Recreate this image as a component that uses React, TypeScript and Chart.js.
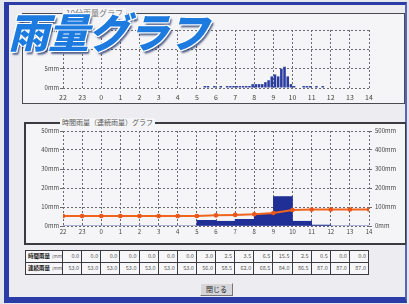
import React, { useEffect, useRef } from 'react';
import { Chart, registerables } from 'chart.js';

Chart.register(...registerables);

const hourLabels = ['22', '23', '0', '1', '2', '3', '4', '5', '6', '7', '8', '9', '10', '11', '12', '13', '14'];

// 10-minute rainfall (mm), six slots per hour from 22:00 to 13:50
const tenMinRain = [
  0, 0, 0, 0, 0, 0, // 22
  0, 0, 0, 0, 0, 0, // 23
  0, 0, 0, 0, 0, 0, // 0
  0, 0, 0, 0, 0, 0, // 1
  0, 0, 0, 0, 0, 0, // 2
  0, 0, 0, 0, 0, 0, // 3
  0, 0, 0, 0, 0, 0, // 4
  0, 0, 0.5, 0.5, 0, 0.5, // 5
  0, 0.5, 0, 0.5, 0.5, 0.5, // 6
  0.5, 0.5, 0.5, 0.5, 0.5, 1.0, // 7
  1.0, 1.0, 1.0, 1.5, 2.0, 3.0, // 8
  3.5, 3.0, 5.0, 5.5, 3.0, 1.0, // 9
  0.5, 0, 0, 0.5, 0.5, 0.5, // 10
  0, 0.5, 0, 0.5, 0, 0, // 11
  0, 0, 0, 0, 0, 0, // 12
  0, 0, 0, 0, 0, 0, // 13
];

// hourly rainfall (mm) per interval 22-23 ... 13-14
const hourlyRain = [0, 0, 0, 0, 0, 0, 0, 3.0, 2.5, 3.5, 6.5, 15.5, 2.5, 0.5, 0, 0];

// continuous rainfall (mm) at each hour mark 22 ... 14
const cumulativeRain = [53.0, 53.0, 53.0, 53.0, 53.0, 53.0, 53.0, 53.0, 56.0, 58.5, 62.0, 68.5, 84.0, 86.5, 87.0, 87.0, 87.0];

const topYTicks = [0, 5, 10, 15];
const leftYTicks = [0, 10, 20, 30, 40, 50];
const rightYTicks = [0, 100, 200, 300, 400, 500];

const FONT = '"Noto Sans CJK JP", "Noto Sans", sans-serif';
const GRID = '#6a6a70';

function hourTick(v: any) {
  const i = Number(v);
  return Number.isInteger(i) ? hourLabels[i] ?? '' : '';
}

function TopChart() {
  const ref = useRef<HTMLCanvasElement>(null);
  useEffect(() => {
    if (!ref.current) return;
    const data = tenMinRain.map((v, i) => ({ x: i / 6 + 1 / 12, y: v }));
    const chart = new Chart(ref.current, {
      type: 'bar',
      data: {
        datasets: [
          {
            data,
            backgroundColor: '#2a3c9e',
            borderColor: '#2a3c9e',
            borderWidth: 0,
            barPercentage: 0.8,
            categoryPercentage: 1,
          },
        ],
      },
      options: {
        animation: false,
        responsive: false,
        maintainAspectRatio: false,
        plugins: { legend: { display: false }, tooltip: { enabled: false } },
        layout: { padding: { top: 16, right: 35, left: 0, bottom: 0 } },
        scales: {
          x: {
            type: 'linear',
            min: 0,
            max: hourLabels.length - 1,
            offset: false,
            grid: { color: GRID, lineWidth: 1, drawTicks: false, offset: false },
            border: { display: false, dash: [2, 2] },
            ticks: { stepSize: 1, autoSkip: false, maxRotation: 0, padding: 5, color: '#444', font: { family: FONT, size: 7 }, callback: hourTick },
            afterFit: (s: any) => { s.height = 15; },
          },
          y: {
            min: topYTicks[0],
            max: topYTicks[topYTicks.length - 1],
            afterBuildTicks: (s: any) => { s.ticks = topYTicks.map((v) => ({ value: v })); },
            grid: { color: GRID, lineWidth: 1, tickLength: 3 },
            border: { display: false, dash: [2, 2] },
            ticks: { padding: 1, color: '#444', font: { family: FONT, size: 6 }, callback: (v: any) => v + 'mm' },
            afterFit: (s: any) => { s.width = 41; },
          },
        },
      },
    });
    return () => chart.destroy();
  }, []);
  return <canvas ref={ref} width={382} height={89} style={{ position: 'absolute', left: 22, top: 14, width: 382, height: 89 }} />;
}

function BottomChart() {
  const ref = useRef<HTMLCanvasElement>(null);
  useEffect(() => {
    if (!ref.current) return;
    const bars = hourlyRain.map((v, i) => ({ x: i + 0.5, y: v }));
    const line = cumulativeRain.map((v, i) => ({ x: i, y: v }));
    const chart = new Chart(ref.current, {
      type: 'bar',
      data: {
        datasets: [
          {
            type: 'line' as const,
            data: line,
            yAxisID: 'y2',
            borderColor: '#f0641e',
            backgroundColor: '#f0641e',
            borderWidth: 2,
            pointRadius: 2.3,
            pointBackgroundColor: '#e8561a',
            pointBorderWidth: 0,
            tension: 0,
            order: 0,
          },
          {
            type: 'bar' as const,
            data: bars,
            yAxisID: 'y',
            backgroundColor: '#1f2f96',
            borderWidth: 0,
            barPercentage: 1,
            categoryPercentage: 1,
            order: 1,
          },
        ],
      },
      options: {
        animation: false,
        responsive: false,
        maintainAspectRatio: false,
        plugins: { legend: { display: false }, tooltip: { enabled: false } },
        layout: { padding: { top: 8, right: 0, left: 0, bottom: 0 } },
        scales: {
          x: {
            type: 'linear',
            min: 0,
            max: hourLabels.length - 1,
            offset: false,
            grid: { color: GRID, lineWidth: 1, drawTicks: false, offset: false },
            border: { display: false, dash: [2, 2] },
            ticks: { stepSize: 1, autoSkip: false, maxRotation: 0, padding: 2, color: '#444', font: { family: FONT, size: 6 }, callback: hourTick },
            afterFit: (s: any) => { s.height = 13; },
          },
          y: {
            position: 'left',
            min: leftYTicks[0],
            max: leftYTicks[leftYTicks.length - 1],
            afterBuildTicks: (s: any) => { s.ticks = leftYTicks.map((v) => ({ value: v })); },
            grid: { color: GRID, lineWidth: 1, tickLength: 3 },
            border: { display: false, dash: [2, 2] },
            ticks: { padding: 1, color: '#444', font: { family: FONT, size: 6 }, callback: (v: any) => v + 'mm' },
            afterFit: (s: any) => { s.width = 39; },
          },
          y2: {
            position: 'right',
            min: rightYTicks[0],
            max: rightYTicks[rightYTicks.length - 1],
            afterBuildTicks: (s: any) => { s.ticks = rightYTicks.map((v) => ({ value: v })); },
            grid: { color: GRID, lineWidth: 1, tickLength: 3, drawOnChartArea: false },
            border: { display: false, dash: [2, 2] },
            ticks: { padding: 3, color: '#444', font: { family: FONT, size: 6 }, callback: (v: any) => v + 'mm' },
            afterFit: (s: any) => { s.width = 35; },
          },
        },
      },
    });
    return () => chart.destroy();
  }, []);
  return <canvas ref={ref} width={380} height={116} style={{ position: 'absolute', left: 24, top: 123, width: 380, height: 116 }} />;
}

const cellStyle: React.CSSProperties = {
  border: '1px solid #3a3a40',
  textAlign: 'right',
  padding: '0 2px 0 0',
  fontSize: 5.5,
  color: '#555',
  background: '#f7f7f9',
  whiteSpace: 'nowrap',
  overflow: 'hidden',
  height: 11,
  lineHeight: '11px',
};

const labelStyle: React.CSSProperties = {
  ...cellStyle,
  textAlign: 'left',
  padding: '0 0 0 2px',
  color: '#111',
  fontWeight: 700,
};

function DataTable() {
  const rows = [
    { label: '時間雨量', values: hourlyRain },
    { label: '連続雨量', values: cumulativeRain.slice(1) },
  ];
  return (
    <table
      style={{
        position: 'absolute', left: 25, top: 250, width: 344, borderCollapse: 'collapse', tableLayout: 'fixed',
        fontFamily: FONT, border: '1px solid #333',
      }}
    >
      <colgroup>
        <col style={{ width: 37 }} />
        {hourlyRain.map((_, i) => <col key={i} />)}
      </colgroup>
      <tbody>
        {rows.map((r, ri) => (
          <tr key={ri} style={{ borderBottom: ri === 0 ? '1px solid #6a8ab8' : undefined }}>
            <td style={labelStyle}>
              {r.label}
              <span style={{ fontWeight: 400, color: '#555', fontSize: 4.5, marginLeft: 2 }}>(mm)</span>
            </td>
            {r.values.map((v, i) => (
              <td key={i} style={cellStyle}>{v.toFixed(1)}</td>
            ))}
          </tr>
        ))}
      </tbody>
    </table>
  );
}

export default function App() {
  return (
    <div style={{ position: 'fixed', left: 0, top: 0, width: 409, height: 304, background: '#e6e7ec', overflow: 'hidden', fontFamily: FONT }}>
      {/* blue frame */}
      <div style={{ position: 'absolute', left: 4, top: 2, width: 396, height: 292, borderTop: '3px solid #2b3ca6', borderLeft: '5px solid #2b3ca6', borderBottom: '6px solid #2b3ca6', borderRight: '2px solid #5566b8', background: '#ededf1' }} />

      {/* top panel */}
      <div style={{ position: 'absolute', left: 22, top: 13, width: 381, height: 89, border: '1px solid #4a4a50', background: '#f5f5f7' }} />
      <div style={{ position: 'absolute', left: 63, top: 8, padding: '0 3px', fontSize: 8, lineHeight: '10px', color: '#777', background: '#f5f5f7' }}>10分雨量グラフ</div>
      <TopChart />

      {/* bottom panel */}
      <div style={{ position: 'absolute', left: 24, top: 122, width: 379, height: 119, borderTop: '2px solid #3a3a40', borderLeft: '2px solid #3a3a40', borderBottom: '2px solid #3a3a40', borderRight: '1px solid #3a3a40', background: '#f5f5f7' }} />
      <div style={{ position: 'absolute', left: 60, top: 118, padding: '0 2px', fontSize: 7, lineHeight: '9px', color: '#555', background: '#f5f5f7' }}>時間雨量（連続雨量）グラフ</div>
      <BottomChart />

      <DataTable />

      <div style={{ position: 'absolute', left: 200, top: 283, width: 31, height: 11, background: '#d6d6da', border: '1px solid #777', borderTopColor: '#eee', borderLeftColor: '#eee', fontSize: 7, lineHeight: '11px', textAlign: 'center', color: '#222' }}>閉じる</div>

      {/* big title */}
      <div
        style={{
          position: 'absolute', left: 8, top: 10, fontSize: 41, lineHeight: '41px', fontWeight: 900, fontStyle: 'italic',
          color: '#1d7be0', letterSpacing: -1,
          textShadow: '-1px -1px 0 #fff, 1px -1px 0 #fff, -1px 1px 0 #fff, 1px 1px 0 #fff, 2px 3px 2px rgba(10,30,90,0.7)',
          whiteSpace: 'nowrap',
        }}
      >
        雨量グラフ
      </div>
    </div>
  );
}
